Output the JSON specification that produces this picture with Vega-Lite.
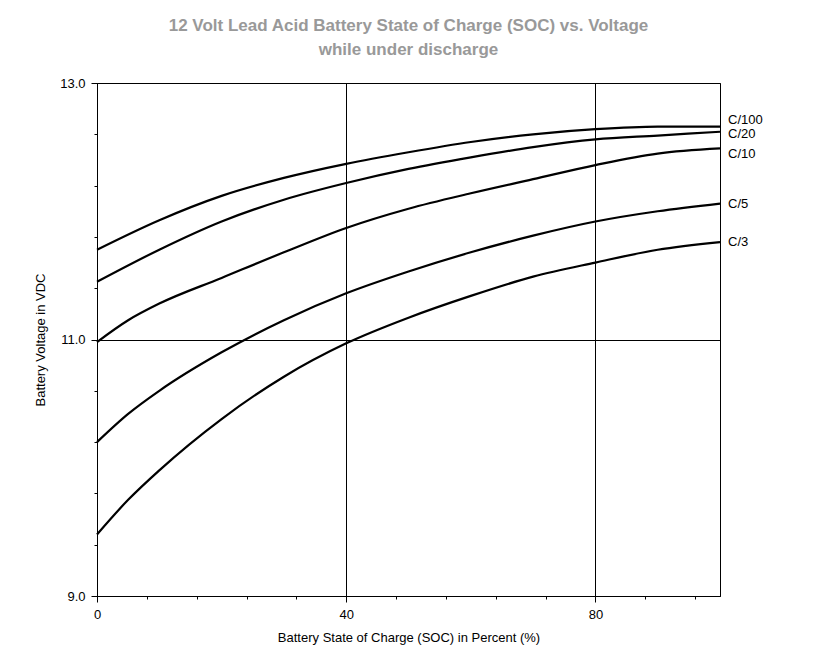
{
"$schema":"https://vega.github.io/schema/vega-lite/v6.json",
"width":623,"height":513,
"autosize":{"type":"none"},
"padding":{"left":97,"top":83,"right":93,"bottom":68},
"background":"white",
"config":{"font":"Liberation Sans","view":{"stroke":"black","strokeWidth":1}},
"title":{"text":["12 Volt Lead Acid Battery State of Charge (SOC) vs. Voltage","while under discharge"],"color":"#999999","fontSize":17,"fontWeight":"bold","anchor":"middle","offset":18,"lineHeight":24},
"datasets":{
"labels":[{"s":"C/100","x":100,"y":12.71},{"s":"C/20","x":100,"y":12.6},{"s":"C/10","x":100,"y":12.45},{"s":"C/5","x":100,"y":12.06},{"s":"C/3","x":100,"y":11.76}]
},
"data":{"values":[
{"s":"C/100","x":0,"y":11.70},{"s":"C/100","x":10,"y":11.93},{"s":"C/100","x":20,"y":12.12},{"s":"C/100","x":30,"y":12.26},{"s":"C/100","x":40,"y":12.37},{"s":"C/100","x":50,"y":12.46},{"s":"C/100","x":60,"y":12.54},{"s":"C/100","x":70,"y":12.60},{"s":"C/100","x":80,"y":12.64},{"s":"C/100","x":90,"y":12.66},{"s":"C/100","x":100,"y":12.66},
{"s":"C/20","x":0,"y":11.45},{"s":"C/20","x":10,"y":11.70},{"s":"C/20","x":20,"y":11.92},{"s":"C/20","x":30,"y":12.09},{"s":"C/20","x":40,"y":12.22},{"s":"C/20","x":50,"y":12.33},{"s":"C/20","x":60,"y":12.42},{"s":"C/20","x":70,"y":12.50},{"s":"C/20","x":80,"y":12.56},{"s":"C/20","x":90,"y":12.59},{"s":"C/20","x":100,"y":12.62},
{"s":"C/10","x":0,"y":10.98},{"s":"C/10","x":5,"y":11.15},{"s":"C/10","x":10,"y":11.28},{"s":"C/10","x":20,"y":11.48},{"s":"C/10","x":30,"y":11.68},{"s":"C/10","x":40,"y":11.87},{"s":"C/10","x":50,"y":12.02},{"s":"C/10","x":60,"y":12.14},{"s":"C/10","x":70,"y":12.25},{"s":"C/10","x":80,"y":12.36},{"s":"C/10","x":90,"y":12.45},{"s":"C/10","x":100,"y":12.49},
{"s":"C/5","x":0,"y":10.20},{"s":"C/5","x":5,"y":10.42},{"s":"C/5","x":10,"y":10.60},{"s":"C/5","x":20,"y":10.90},{"s":"C/5","x":30,"y":11.15},{"s":"C/5","x":40,"y":11.36},{"s":"C/5","x":50,"y":11.53},{"s":"C/5","x":60,"y":11.68},{"s":"C/5","x":70,"y":11.81},{"s":"C/5","x":80,"y":11.92},{"s":"C/5","x":90,"y":12.00},{"s":"C/5","x":100,"y":12.06},
{"s":"C/3","x":0,"y":9.48},{"s":"C/3","x":5,"y":9.75},{"s":"C/3","x":10,"y":9.98},{"s":"C/3","x":20,"y":10.38},{"s":"C/3","x":30,"y":10.71},{"s":"C/3","x":40,"y":10.97},{"s":"C/3","x":50,"y":11.17},{"s":"C/3","x":60,"y":11.34},{"s":"C/3","x":70,"y":11.49},{"s":"C/3","x":80,"y":11.60},{"s":"C/3","x":90,"y":11.70},{"s":"C/3","x":100,"y":11.76}
]},
"layer":[
{"mark":{"type":"line","interpolate":"monotone","color":"black","strokeWidth":2.2},
"encoding":{
"x":{"field":"x","type":"quantitative","scale":{"domain":[0,100],"nice":false},"title":"Battery State of Charge (SOC) in Percent (%)",
"axis":{"values":[0,2,4,6,8,10,12,14,16,18,20,22,24,26,28,30,32,34,36,38,40,42,44,46,48,50,52,54,56,58,60,62,64,66,68,70,72,74,76,78,80,82,84,86,88,90,92,94,96,98,100],
"labelOverlap":false,"labelBound":false,"labelFlush":false,
"labelExpr":"datum.value % 10 === 0 ? datum.label : ''","domainColor":"black","tickColor":"black","gridColor":"black",
"gridOpacity":{"condition":{"test":"datum.value % 10 === 0","value":1},"value":0},
"tickSize":{"condition":{"test":"datum.value % 10 === 0","value":6},"value":3},
"labelColor":"black","labelFontSize":13,"titleFontSize":13,"titleFontWeight":"normal","titleColor":"black","titlePadding":10,"labelPadding":6}},
"y":{"field":"y","type":"quantitative","scale":{"domain":[9,13],"nice":false,"zero":false},"title":"Battery Voltage in VDC",
"axis":{"values":[9,9.1,9.2,9.3,9.4,9.5,9.6,9.7,9.8,9.9,10,10.1,10.2,10.3,10.4,10.5,10.6,10.7,10.8,10.9,11,11.1,11.2,11.3,11.4,11.5,11.6,11.7,11.8,11.9,12,12.1,12.2,12.3,12.4,12.5,12.6,12.7,12.8,12.9,13],
"labelOverlap":false,"labelBound":false,"labelFlush":false,
"labelExpr":"abs(datum.value*2 - round(datum.value*2)) < 0.001 ? format(datum.value,'.1f') : ''","domainColor":"black","tickColor":"black","gridColor":"black",
"gridOpacity":{"condition":{"test":"abs(datum.value*2 - round(datum.value*2)) < 0.001","value":1},"value":0},
"tickSize":{"condition":{"test":"abs(datum.value*2 - round(datum.value*2)) < 0.001","value":6},"value":3},
"labelColor":"black","labelFontSize":13,"titleFontSize":13,"titleFontWeight":"normal","titleColor":"black","titlePadding":12,"labelPadding":6}},
"detail":{"field":"s"}}},
{"data":{"name":"labels"},"mark":{"type":"text","align":"left","dx":8,"fontSize":13,"color":"black"},
"encoding":{"x":{"field":"x","type":"quantitative"},"y":{"field":"y","type":"quantitative"},"text":{"field":"s"}}}
]
}
